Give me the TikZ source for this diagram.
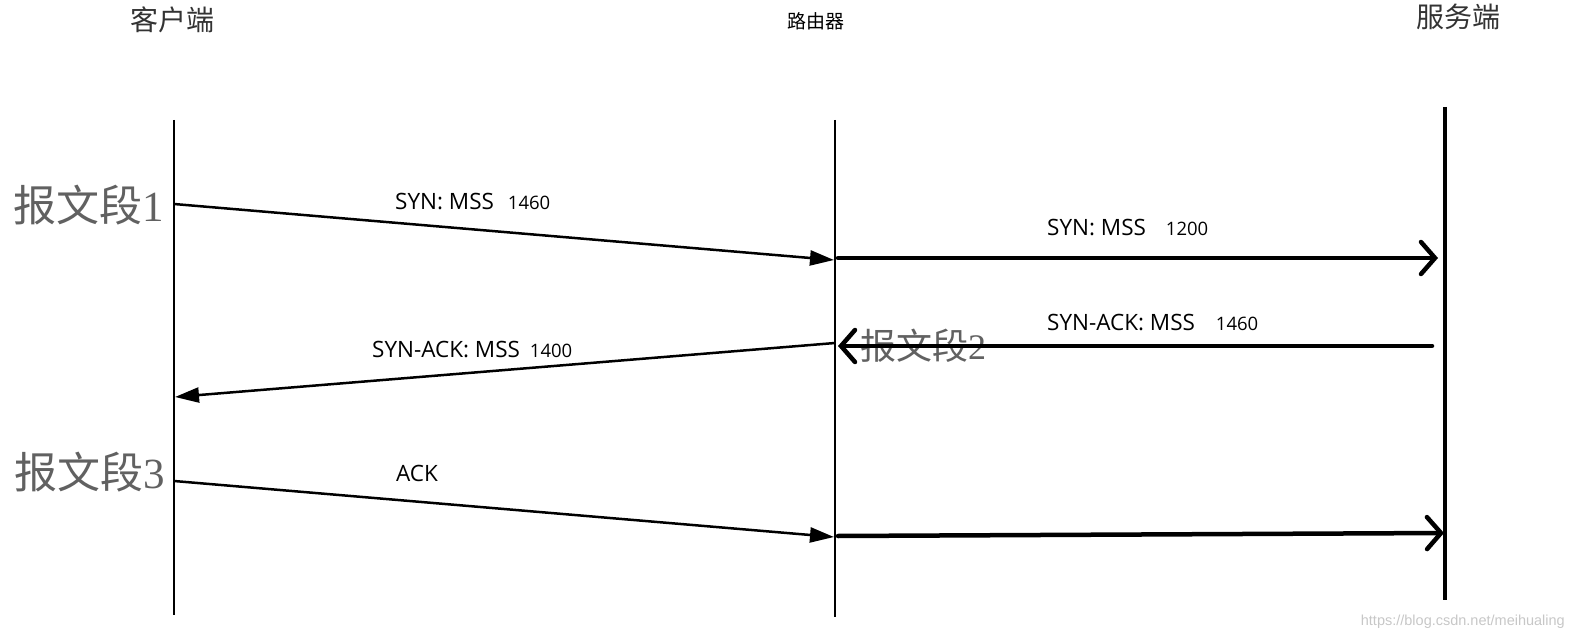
\documentclass[tikz,border=0pt]{standalone}
\usepackage{fontspec}
\setmainfont{Open Sans}
\newfontfamily\cjk{Noto Sans CJK SC}
\newfontfamily\serifnum{Liberation Serif}
\newfontfamily\wmfont{Liberation Sans}
\usetikzlibrary{arrows.meta}
\begin{document}
\begin{tikzpicture}[x=1pt,y=-1pt,
  lifeline/.style={line width=2pt},
  thickline/.style={line width=4pt},
  diagarrow/.style={line width=2.5pt,-{Triangle[length=24pt,width=15pt]}},
  barbarrow/.style={line width=4.5pt,line cap=round,-{Straight Barb[length=14pt,width=32pt,line cap=round]}},
  title/.style={inner sep=0pt,font=\cjk\fontsize{28}{28}\selectfont,text=black!80},
  seglabel/.style={inner sep=0pt,text=black!62,font=\cjk\fontsize{43}{43}\selectfont},
  msg/.style={inner sep=0pt,anchor=base west,font=\fontsize{22.5}{22.5}\selectfont},
  num/.style={font=\fontsize{15}{15}\selectfont}
]
\useasboundingbox (0,0) rectangle (1575,639);

% titles
\node[title] (client) at (172,20) {客户端};
\node[title,font=\cjk\fontsize{19}{19}\selectfont,text=black] (router) at (816,21) {路由器};
\node[title] (server) at (1458,17) {服务端};

% lifelines
\coordinate (ct) at (174,120); \coordinate (cb) at (174,615);
\coordinate (rt) at (835,120); \coordinate (rb) at (835,617);
\coordinate (st) at (1445,107); \coordinate (sb) at (1445,600);
\draw[lifeline] (ct) -- (cb);
\draw[lifeline] (rt) -- (rb);
\draw[thickline] (st) -- (sb);

% segment labels
\node[seglabel] (seg1) at (89,205) {报文段{\serifnum 1}};
\node[seglabel,font=\cjk\fontsize{36}{36}\selectfont] (seg2) at (923,346) {报文段{\serifnum 2}};
\node[seglabel] (seg3) at (90,472) {报文段{\serifnum 3}};

% message endpoints
\coordinate (a1s) at (174,204); \coordinate (a1e) at (834,260);
\coordinate (a2s) at (838,258); \coordinate (a2e) at (1438,258);
\coordinate (a3s) at (1432,346); \coordinate (a3e) at (838,346);
\coordinate (a4s) at (835,343); \coordinate (a4e) at (175,397);
\coordinate (a5s) at (174,481); \coordinate (a5e) at (834,537);
\coordinate (a6s) at (838,536); \coordinate (a6e) at (1444,533);

\draw[diagarrow] (a1s) -- (a1e);
\draw[barbarrow] (a2s) -- (a2e);
\draw[barbarrow] (a3s) -- (a3e);
\draw[diagarrow] (a4s) -- (a4e);
\draw[diagarrow] (a5s) -- (a5e);
\draw[barbarrow] (a6s) -- (a6e);

% message labels
\node[msg] (m1) at (395,210) {SYN: MSS\hspace{14pt}{\fontsize{18.5}{18.5}\selectfont 1460}};
\node[msg] (m2) at (1047,236) {SYN: MSS\hspace{20pt}{\fontsize{18.5}{18.5}\selectfont 1200}};
\node[msg] (m3) at (1047,330) {SYN-ACK: MSS\hspace{21pt}{\fontsize{18.5}{18.5}\selectfont 1460}};
\node[msg] (m4) at (372,357) {SYN-ACK: MSS\hspace{10pt}{\fontsize{18.5}{18.5}\selectfont 1400}};
\node[msg] (m5) at (396,481) {ACK};

% watermark
\node[inner sep=0pt,anchor=base east,text=black!22,font=\wmfont\fontsize{14.5}{14.5}\selectfont] (wm) at (1565,625) {https://blog.csdn.net/meihualing};
\end{tikzpicture}
\end{document}
